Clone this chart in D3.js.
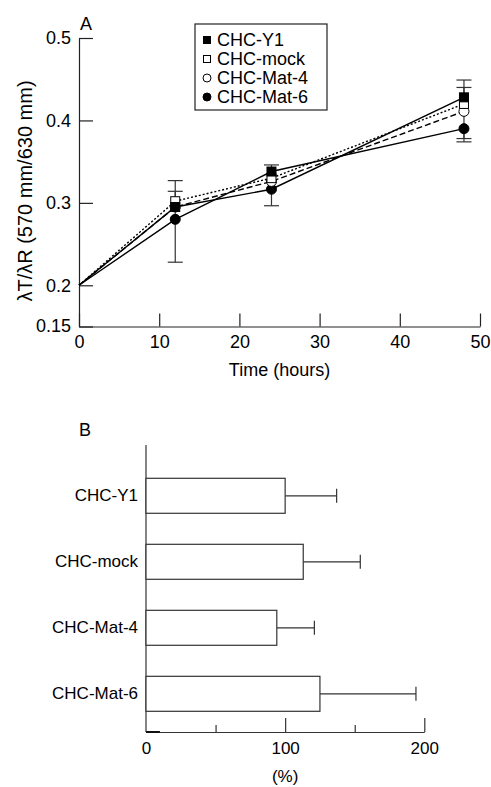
<!DOCTYPE html>
<html>
<head>
<meta charset="utf-8">
<script src="https://cdn.jsdelivr.net/npm/d3@7"></script>
<style>
  body { margin: 0; background: #fff; }
  svg { display: block; font-family: "Liberation Sans", Arial, sans-serif; }
</style>
</head>
<body>
<div id="frame"></div>
<script>
// panel A data
const times = [0, 12, 24, 48];
const seriesNames = ["CHC-Y1", "CHC-mock", "CHC-Mat-4", "CHC-Mat-6"];
const y1Vals   = [0.2, 0.295, 0.338, 0.428];
const mockVals = [0.2, 0.302, 0.330, 0.420];
const mat4Vals = [0.2, 0.295, 0.326, 0.411];
const mat6Vals = [0.2, 0.280, 0.3165, 0.390];
// the two solid lines as drawn in the figure (they cross between points)
const solidLineA = [0.2, 0.280, 0.338, 0.390];
const solidLineB = [0.2, 0.295, 0.3165, 0.428];
const y1ErrUp     = [0, 0, 0.008, 0.021];
const y1ErrDown   = [0, 0, 0, 0];
const mockErrUp   = [0, 0.012, 0, 0.020];
const mockErrDown = [0, 0, 0, 0];
const mat4ErrUp   = [0, 0, 0, 0];
const mat4ErrDown = [0, 0, 0, 0.033];
const mat6ErrUp   = [0, 0.047, 0, 0];
const mat6ErrDown = [0, 0.052, 0.020, 0.016];
const yTicksA = [0.15, 0.2, 0.3, 0.4, 0.5];
const xTicksA = [0, 10, 20, 30, 40, 50];

// panel B data
const barCats = ["CHC-Y1", "CHC-mock", "CHC-Mat-4", "CHC-Mat-6"];
const barVals = [100, 113, 94, 125];
const barErr  = [37, 41, 27, 69];
const xTicksB = [0, 50, 100, 150, 200];

const WIDTH = 491, HEIGHT = 787;

const svg = d3.select("#frame")
    .append("svg")
        .attr("width", WIDTH)
        .attr("height", HEIGHT);

// ---------- panel A ----------
const X_A = d3.scaleLinear().domain([0, 50]).range([79, 480]);
const Y_A = d3.scaleLinear().domain([0.15, 0.5]).range([326.5, 38]);

svg.append("g")
    .attr("transform", "translate(0," + Y_A(0.15) + ")")
    .call(d3.axisBottom(X_A).tickValues(xTicksA).tickSizeInner(-13).tickSizeOuter(0).tickPadding(9))
    .call(g => g.selectAll("text").attr("font-size", "18px").attr("font-family", "Liberation Sans, Arial"))
    .call(g => g.selectAll("line, path").attr("stroke", "#222").attr("stroke-width", 1.2));

svg.append("g")
    .attr("transform", "translate(" + X_A(0) + ",0)")
    .call(d3.axisLeft(Y_A).tickValues(yTicksA).tickSizeInner(-14).tickSizeOuter(0).tickPadding(8)
        .tickFormat(d => d === 0.15 ? "0.15" : d3.format(".1f")(d)))
    .call(g => g.selectAll("text").attr("font-size", "18px").attr("font-family", "Liberation Sans, Arial"))
    .call(g => g.selectAll(".tick").filter(d => d === 0.15).select("text").attr("dy", "0.25em"))
    .call(g => g.selectAll("line, path").attr("stroke", "#222").attr("stroke-width", 1.2));

svg.append("text")
    .attr("x", 80).attr("y", 30)
    .attr("font-size", "18px")
    .text("A");

svg.append("text")
    .attr("x", (X_A(0) + X_A(50)) / 2).attr("y", 376)
    .attr("text-anchor", "middle")
    .attr("font-size", "18px")
    .text("Time (hours)");

svg.append("text")
    .attr("transform", "translate(32," + 191 + ") rotate(-90)")
    .attr("text-anchor", "middle")
    .attr("font-size", "20px")
    .text("λT/λR (570 mm/630 mm)");

const series = [
    {name: seriesNames[0], vals: y1Vals,   up: y1ErrUp,   down: y1ErrDown,   shape: "square", fill: "#000"},
    {name: seriesNames[1], vals: mockVals, up: mockErrUp, down: mockErrDown, shape: "square", fill: "#fff"},
    {name: seriesNames[2], vals: mat4Vals, up: mat4ErrUp, down: mat4ErrDown, shape: "circle", fill: "#fff"},
    {name: seriesNames[3], vals: mat6Vals, up: mat6ErrUp, down: mat6ErrDown, shape: "circle", fill: "#000"}
];

const lines = [
    {vals: solidLineA, dash: null},
    {vals: solidLineB, dash: null},
    {vals: mockVals,   dash: "2,2"},
    {vals: mat4Vals,   dash: "6,3"}
];

const line = d3.line()
    .x((d, i) => X_A(times[i]))
    .y(d => Y_A(d));

// error bars
series.forEach(s => {
    const eb = svg.append("g").attr("stroke", "#333").attr("stroke-width", 1.2);
    s.vals.forEach((v, i) => {
        [[s.up[i], 1], [s.down[i], -1]].forEach(([e, sign]) => {
            if (e <= 0) return;
            const cx = X_A(times[i]);
            const yEnd = Y_A(v + sign * e);
            eb.append("line").attr("x1", cx).attr("x2", cx).attr("y1", Y_A(v)).attr("y2", yEnd);
            eb.append("line").attr("x1", cx - 7.5).attr("x2", cx + 7.5).attr("y1", yEnd).attr("y2", yEnd);
        });
    });
});

// lines
lines.forEach(l => {
    svg.append("path")
        .datum(l.vals)
        .attr("d", line)
        .attr("fill", "none")
        .attr("stroke", "#000")
        .attr("stroke-width", 1.4)
        .attr("stroke-dasharray", l.dash);
});

function drawMarker(g, shape, fill, cx, cy, size) {
    if (shape === "square") {
        g.append("rect")
            .attr("x", cx - size / 2).attr("y", cy - size / 2)
            .attr("width", size).attr("height", size)
            .attr("fill", fill).attr("stroke", "#000").attr("stroke-width", 1);
    } else {
        g.append("circle")
            .attr("cx", cx).attr("cy", cy).attr("r", size / 2 + 0.5)
            .attr("fill", fill).attr("stroke", "#000").attr("stroke-width", 1);
    }
}

// markers (skip t=0, where all lines start)
const markers = svg.append("g");
[series[3], series[2], series[1], series[0]].forEach(s => {
    s.vals.forEach((v, i) => {
        if (i === 0) return;
        drawMarker(markers, s.shape, s.fill, X_A(times[i]), Y_A(v), 9);
    });
});

// legend
const legend = svg.append("g");
legend.append("rect")
    .attr("x", 195).attr("y", 24)
    .attr("width", 132).attr("height", 86)
    .attr("fill", "#fff").attr("stroke", "#222").attr("stroke-width", 1.2);
series.forEach((s, i) => {
    const cy = 40 + i * 19;
    drawMarker(legend, s.shape, s.fill, 207, cy, 7);
    legend.append("text")
        .attr("x", 217).attr("y", cy)
        .attr("dy", "0.36em")
        .attr("font-size", "18px")
        .text(s.name);
});

// ---------- panel B ----------
const X_B = d3.scaleLinear().domain([0, 200]).range([146, 424.3]);
const Y_B = d3.scaleBand().domain(barCats).range([461.8, 727.8]).paddingInner(0.47).paddingOuter(0.25);
const AXIS_B_TOP = 445, AXIS_B_BOTTOM = 732;

svg.append("text")
    .attr("x", 79).attr("y", 436)
    .attr("font-size", "18px")
    .text("B");

svg.append("line")
    .attr("x1", X_B(0)).attr("x2", X_B(0))
    .attr("y1", AXIS_B_TOP).attr("y2", AXIS_B_BOTTOM)
    .attr("stroke", "#333").attr("stroke-width", 1.2);

svg.append("g")
    .attr("transform", "translate(" + X_B(0) + ",0)")
    .call(d3.axisLeft(Y_B).tickSize(0).tickPadding(8))
    .call(g => g.select(".domain").remove())
    .call(g => g.selectAll("text").attr("font-size", "17px").attr("font-family", "Liberation Sans, Arial"));

const xAxisB = svg.append("g")
    .attr("transform", "translate(0," + AXIS_B_BOTTOM + ")")
    .call(d3.axisBottom(X_B).tickValues(xTicksB).tickSizeInner(-14).tickSizeOuter(0).tickPadding(10)
        .tickFormat(d => d % 100 === 0 ? d : ""))
    .call(g => g.selectAll("text").attr("font-size", "17px").attr("font-family", "Liberation Sans, Arial"))
    .call(g => g.selectAll("line, path").attr("stroke", "#333").attr("stroke-width", 1.2));
xAxisB.selectAll(".tick").filter(d => d % 100 !== 0).select("line").attr("y2", -7);
xAxisB.selectAll(".tick").filter(d => d === 0).select("line").remove();

// thick stub at the origin
svg.append("line")
    .attr("x1", X_B(0)).attr("x2", X_B(10))
    .attr("y1", AXIS_B_BOTTOM).attr("y2", AXIS_B_BOTTOM)
    .attr("stroke", "#111").attr("stroke-width", 2);

svg.append("text")
    .attr("x", X_B(100)).attr("y", 782)
    .attr("text-anchor", "middle")
    .attr("font-size", "17px")
    .text("(%)");

const bars = svg.append("g");
barCats.forEach((c, i) => {
    const yTop = Y_B(c);
    const mid = yTop + Y_B.bandwidth() / 2;
    bars.append("line")
        .attr("x1", X_B(barVals[i])).attr("x2", X_B(barVals[i] + barErr[i]))
        .attr("y1", mid).attr("y2", mid)
        .attr("stroke", "#333").attr("stroke-width", 1.2);
    bars.append("line")
        .attr("x1", X_B(barVals[i] + barErr[i])).attr("x2", X_B(barVals[i] + barErr[i]))
        .attr("y1", mid - 7).attr("y2", mid + 7)
        .attr("stroke", "#333").attr("stroke-width", 1.2);
    bars.append("rect")
        .attr("x", X_B(0)).attr("y", yTop)
        .attr("width", X_B(barVals[i]) - X_B(0))
        .attr("height", Y_B.bandwidth())
        .attr("fill", "#fff").attr("stroke", "#333").attr("stroke-width", 1.2);
});
</script>
</body>
</html>
